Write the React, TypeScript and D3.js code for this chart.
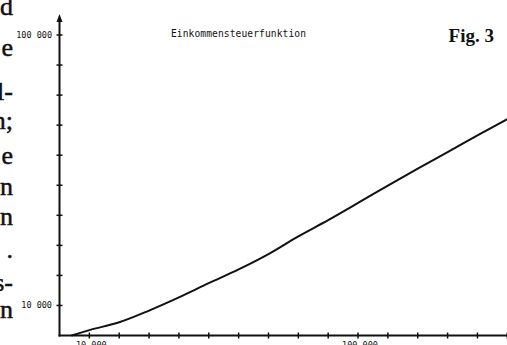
import React, { useEffect, useRef } from 'react';
import * as d3 from 'd3';

// taxable income (DM) and income tax (DM)
const income = [4000, 10000, 20000, 30000, 40000, 50000, 60000, 70000, 80000,
    90000, 100000, 110000, 120000, 130000, 140000, 150000];
const tax = [0, 1800, 4400, 8300, 12700, 17400, 22000, 27100, 33000,
    38400, 44100, 49900, 55500, 61000, 66600, 72000];

const xTicks = d3.range(0, 150001, 10000);
const yTicks = d3.range(0, 100001, 10000);
const xLabels = [10000, 100000];
const yLabels = [10000, 100000];

// cut off words from the page text on the left
const sideText = ['d', 'e', 'l-', 'n;', 'e', 'n', 'n', '.', 's-', 'n'];
const sideBase = [15, 56, 100, 129, 164, 195, 225, 258, 291, 318];

const title = 'Einkommensteuerfunktion';
const figLabel = 'Fig. 3';

const W = 507;
const H = 345;

const fmt = (v: number) => d3.format(',')(v).replace(/,/g, ' ');

function Chart() {
    const ref = useRef<SVGSVGElement>(null);

    useEffect(() => {
        const svg = d3.select(ref.current);
        svg.selectAll('*').remove();

        const x = d3.scaleLinear().domain([0, 150000]).range([59.5, 507.3]);
        const y = d3.scaleLinear().domain([0, 100000]).range([335.5, 35]);
        const ink = '#111';

        // page text fragments
        svg.append('g')
            .selectAll('text')
            .data(sideText)
            .enter()
            .append('text')
            .attr('x', 13)
            .attr('y', (d, i) => sideBase[i])
            .attr('text-anchor', 'end')
            .attr('font-family', '"Liberation Serif", serif')
            .attr('font-size', 26)
            .attr('fill', ink)
            .attr('stroke', ink)
            .attr('stroke-width', 0.5)
            .text(d => d);

        svg.append('text')
            .attr('x', 494)
            .attr('y', 42)
            .attr('text-anchor', 'end')
            .attr('font-family', '"Liberation Serif", serif')
            .attr('font-weight', 'bold')
            .attr('font-size', 19)
            .attr('fill', ink)
            .text(figLabel);

        svg.append('text')
            .attr('x', 171)
            .attr('y', 37)
            .attr('font-family', '"DejaVu Sans Mono", monospace')
            .attr('font-size', 9.6)
            .attr('textLength', 135)
            .attr('fill', ink)
            .text(title);

        // axes
        const x0 = x(0);
        const y0 = y(0);
        svg.append('line')
            .attr('x1', x0).attr('x2', x0)
            .attr('y1', y0 + 1).attr('y2', 18)
            .attr('stroke', ink).attr('stroke-width', 2);
        svg.append('path')
            .attr('d', `M${x0},14 L${x0 - 3},22 L${x0 + 3},22 Z`)
            .attr('fill', ink);
        svg.append('line')
            .attr('x1', x0 - 1).attr('x2', W)
            .attr('y1', y0).attr('y2', y0)
            .attr('stroke', ink).attr('stroke-width', 2);

        svg.append('g')
            .selectAll('line')
            .data(yTicks.slice(1))
            .enter()
            .append('line')
            .attr('x1', x0 - 3).attr('x2', x0 + 3)
            .attr('y1', d => y(d)).attr('y2', d => y(d))
            .attr('stroke', ink).attr('stroke-width', 1.5);

        svg.append('g')
            .selectAll('line')
            .data(xTicks.slice(1))
            .enter()
            .append('line')
            .attr('x1', d => x(d)).attr('x2', d => x(d))
            .attr('y1', y0 - 3).attr('y2', y0 + 3)
            .attr('stroke', ink).attr('stroke-width', 1.5);

        svg.append('g')
            .selectAll('text')
            .data(yLabels)
            .enter()
            .append('text')
            .attr('x', 52)
            .attr('y', d => y(d) + 3)
            .attr('text-anchor', 'end')
            .attr('font-family', '"DejaVu Sans Mono", monospace')
            .attr('font-size', 8.5)
            .attr('fill', ink)
            .text(d => fmt(d));

        svg.append('g')
            .selectAll('text')
            .data(xLabels)
            .enter()
            .append('text')
            .attr('x', d => x(d) + 2)
            .attr('y', 348)
            .attr('text-anchor', 'middle')
            .attr('font-family', '"DejaVu Sans Mono", monospace')
            .attr('font-size', 8.5)
            .attr('fill', ink)
            .text(d => fmt(d));

        // tax curve
        const line = d3.line<number>()
            .x((d, i) => x(income[i]))
            .y(d => y(d))
            .curve(d3.curveMonotoneX);

        svg.append('path')
            .datum(tax)
            .attr('d', line)
            .attr('fill', 'none')
            .attr('stroke', ink)
            .attr('stroke-width', 2);
    }, []);

    return (
        <svg
            ref={ref}
            width={W}
            height={H}
            style={{ position: 'absolute', left: 0, top: 0, background: '#fff' }}
        />
    );
}

export default function App() {
    return <Chart />;
}
